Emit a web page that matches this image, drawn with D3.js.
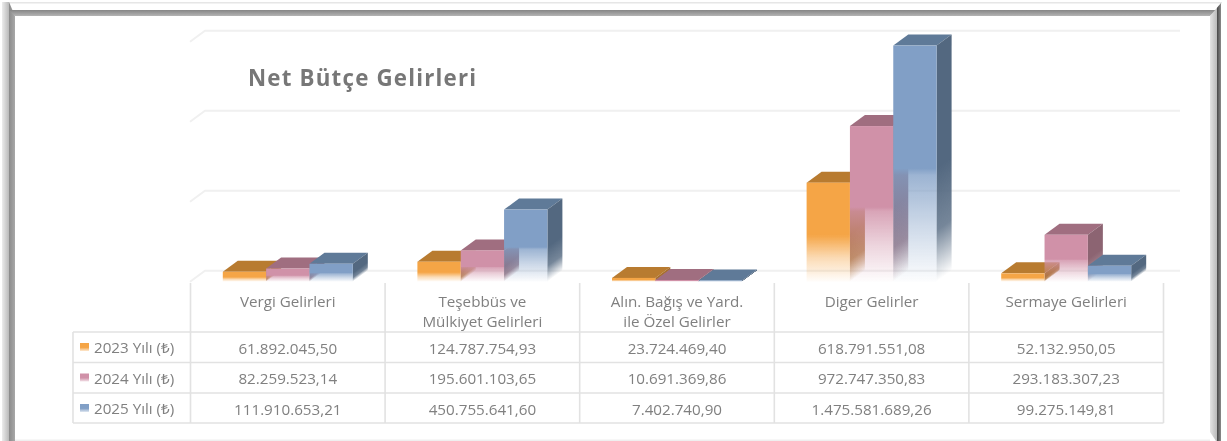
<!DOCTYPE html>
<html><head><meta charset="utf-8">
<script src="https://cdn.jsdelivr.net/npm/d3@7"></script>
<style>html,body{margin:0;padding:0;background:#fff;overflow:hidden}svg{display:block;filter:blur(.35px)}
text{font-family:"Open Sans","Noto Sans",sans-serif}</style></head>
<body><svg id="c" width="1227" height="441"></svg>
<script>
const categories=[["Vergi Gelirleri"],["Teşebbüs ve","Mülkiyet Gelirleri"],["Alın. Bağış ve Yard.","ile Özel Gelirler"],["Diger Gelirler"],["Sermaye Gelirleri"]];
const seriesNames=["2023 Yılı (₺)","2024 Yılı (₺)","2025 Yılı (₺)"];
const values2023=[61892045.50,124787754.93,23724469.40,618791551.08,52132950.05];
const values2024=[82259523.14,195601103.65,10691369.86,972747350.83,293183307.23];
const values2025=[111910653.21,450755641.60,7402740.90,1475581689.26,99275149.81];
const gridTicks=[0,5e8,1e9,1.5e9];
const frontColors=["#F5A546","#D091A8","#819FC6"];
const topColors=["#B87B30","#A06E80","#5F7A98"];
const sideColors=["#A86F2B","#8C6472","#536880"];
const fadeStartAlpha=[.95,.82,.78];

const allValues=[values2023,values2024,values2025];
const svg=d3.select("#c"),defs=svg.append("defs");
const DX=15,DY=11;
const x0=d3.scaleBand().domain(d3.range(categories.length)).range([190.5,1163.5]);
const x1=d3.scaleBand().domain(d3.range(3)).range([0,130]);
const y=d3.scaleLinear().domain([0,1.5e9]).range([281.7,41.7]);
const tr=d3.formatLocale({decimal:",",thousands:".",grouping:[3],currency:["₺",""]});
const fmt=tr.format(",.2f");
const barX=(c,s)=>x0(c)+x0.bandwidth()/2-65+x1(s);

function grad(id,x1g,y1g,x2g,y2g,stops){
  const g=defs.append("linearGradient").attr("id",id).attr("gradientUnits","userSpaceOnUse")
   .attr("x1",x1g).attr("y1",y1g).attr("x2",x2g).attr("y2",y2g);
  stops.forEach(s=>g.append("stop").attr("offset",s[0]).attr("stop-color",s[1]).attr("stop-opacity",s[2]===undefined?1:s[2]));
}
grad("fL",2,0,15,0,[[0,"#ececec"],[.5,"#bdbdbd"],[.52,"#8a8a8a"],[1,"#a8a8a8"]]);
grad("fT",0,9,0,16,[[0,"#7e7e7e"],[1,"#b4b4b4"]]);
grad("fR",1210,0,1221,0,[[0,"#e4e4e4"],[.6,"#bcbcbc"],[.65,"#4a4a4a"],[1,"#8a8a8a"]]);
const f=svg.append("g");
f.append("rect").attr("x",2).attr("y",2).attr("width",1220).attr("height",1.5).attr("fill","#e6e6e6");
f.append("path").attr("d","M2,2H9L15,16V441H2Z").attr("fill","url(#fL)");
f.append("path").attr("d","M9,10H1217L1210,16H15Z").attr("fill","url(#fT)");
f.append("path").attr("d","M1221,3V441H1216L1210,432V16Z").attr("fill","url(#fR)");
f.append("rect").attr("x",15).attr("y",439.5).attr("width",1195).attr("height",1.5).attr("fill","#efefef");

const grid=svg.append("g").attr("fill","none").attr("stroke","#f0f0f0").attr("stroke-width",2);
grid.selectAll("path").data(gridTicks).join("path")
  .attr("d",t=>`M190,${y(t)}L${190+DX},${y(t)-DY}H1180`);

const bars=svg.append("g");
const FADE=.48;
allValues.forEach((vals,s)=>{
  vals.forEach((v,c)=>{
    const xa=barX(c,s),w=x1.bandwidth(),yt=y(v),yb=y(0),h=yb-yt;
    const yf=yb-h*FADE, id=`b${s}_${c}`;
    grad(id+"f",0,yf,0,yb,[[0,frontColors[s],1],[.06,frontColors[s],fadeStartAlpha[s]],[.5,frontColors[s],.4],[1,frontColors[s],.02]]);
    const xr=xa+w,nx=DY,ny=DX,len2=nx*nx+ny*ny,k=(yb-yf)*ny/len2;
    grad(id+"s",xr,yf,xr+nx*k,yf+ny*k,[[0,sideColors[s],1],[.55,sideColors[s],.8],[1,sideColors[s],0]]);
    const g=bars.append("g");
    g.append("path").attr("d",`M${xa},${yt}L${xa+DX},${yt-DY}H${xr+DX}L${xr},${yt}Z`).attr("fill",topColors[s]);
    g.append("path").attr("d",`M${xr},${yt}L${xr+DX},${yt-DY}V${yb-DY}L${xr},${yb}Z`).attr("fill",`url(#${id}s)`);
    g.append("rect").attr("x",xa).attr("y",yt).attr("width",w).attr("height",h).attr("fill",`url(#${id}f)`);
  });
});

const rowY=[332,362.5,393,423],tl=73,tRight=1163.5;
const lines=svg.append("g").attr("stroke","#e2e2e2").attr("stroke-width",1.6).attr("fill","none");
rowY.forEach(r=>lines.append("line").attr("x1",tl).attr("x2",tRight).attr("y1",r).attr("y2",r));
lines.append("line").attr("x1",tl).attr("x2",tl).attr("y1",rowY[0]).attr("y2",rowY[3]);
d3.range(categories.length+1).forEach(i=>{
  const xv=i<categories.length?x0(i):tRight;
  lines.append("line").attr("x1",xv).attr("x2",xv).attr("y1",283).attr("y2",rowY[3]);
});
const TC="#808080",FS=15.2;
const txt=svg.append("g").attr("fill",TC).attr("font-size",FS).attr("text-anchor","middle");
categories.forEach((lab,c)=>{
  lab.forEach((l,i)=>txt.append("text").attr("x",x0(c)+x0.bandwidth()/2).attr("y",307+i*20).text(l));
  allValues.forEach((vals,s)=>txt.append("text").attr("x",x0(c)+x0.bandwidth()/2).attr("y",rowY[s]+21.5).text(fmt(vals[c])));
});
seriesNames.forEach((n,s)=>{
  const yy=rowY[s]+11;
  grad("lg"+s,0,yy,0,yy+8,[[0,frontColors[s],1],[.55,frontColors[s],1],[1,frontColors[s],.25]]);
  svg.append("rect").attr("x",80).attr("y",yy).attr("width",9).attr("height",8).attr("fill",`url(#lg${s})`);
  svg.append("text").attr("x",94).attr("y",rowY[s]+21).attr("fill",TC).attr("font-size",FS).text(n);
});
svg.append("text").attr("x",248).attr("y",86).attr("fill","#777").attr("font-size",22.3).attr("font-weight",700).attr("letter-spacing",1.2).text("Net Bütçe Gelirleri");
</script></body></html>
